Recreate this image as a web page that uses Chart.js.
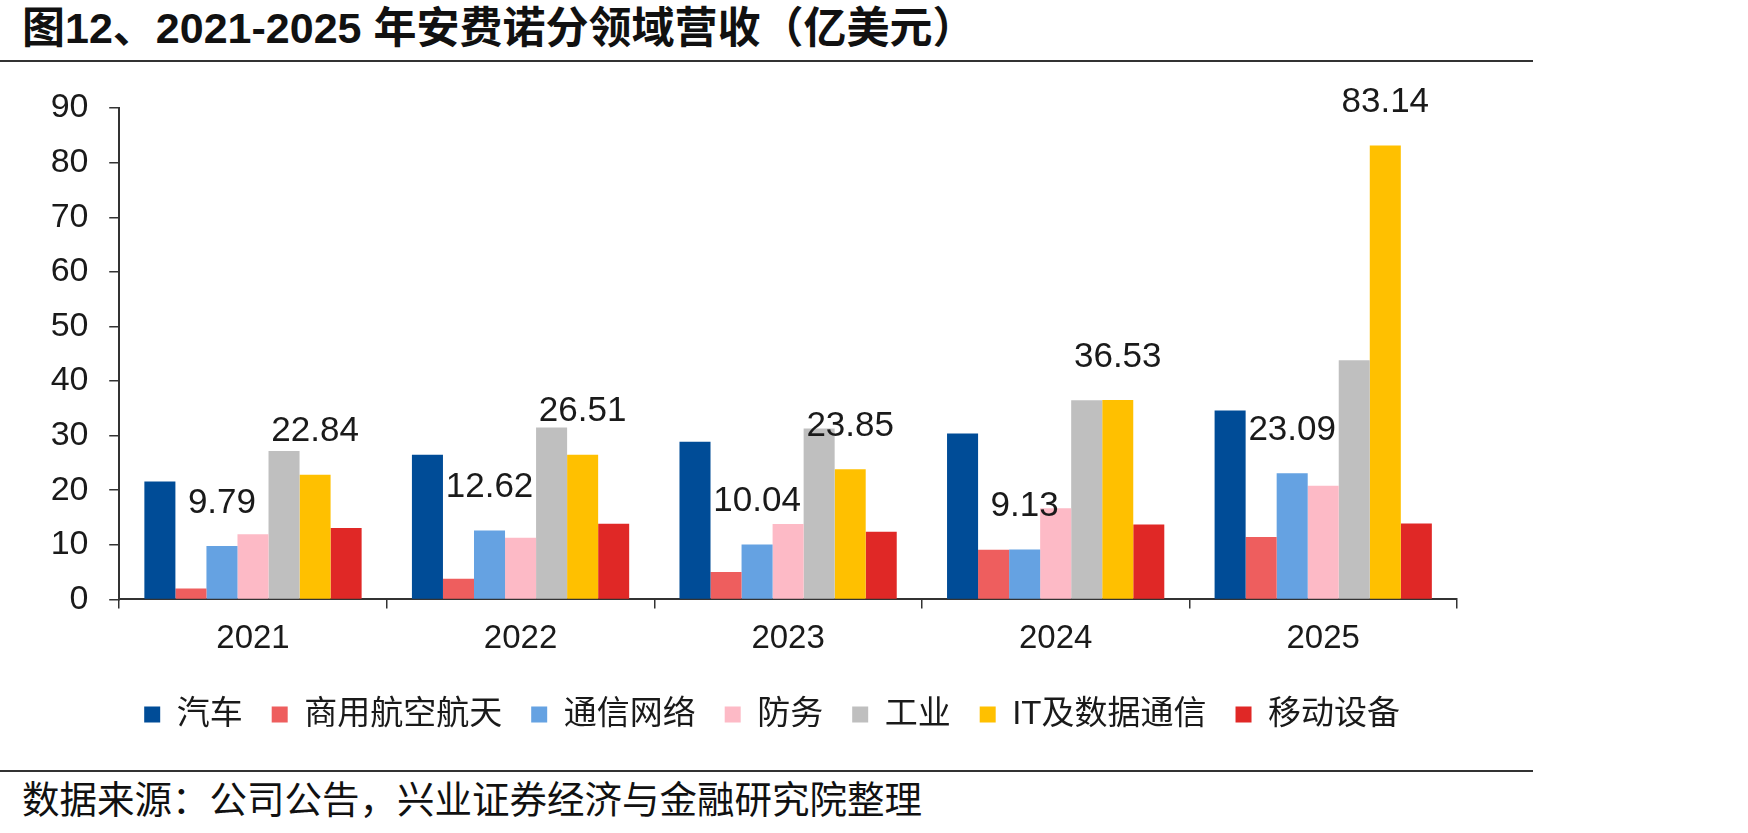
<!DOCTYPE html>
<html>
<head>
<meta charset="utf-8">
<script src="https://cdn.jsdelivr.net/npm/chart.js@4.4.1/dist/chart.umd.min.js"></script>
<style>
  body { margin: 0; width: 1748px; height: 833px; background: #fff; position: relative; overflow: hidden;
         font-family: "Liberation Sans", "Noto Sans CJK SC", sans-serif; color: #111; }
  #title { position: absolute; left: 22px; top: 7px; font-size: 43px; line-height: 43px; font-weight: bold; white-space: nowrap; }
  .rule { position: absolute; left: 0; width: 1533px; height: 2px; background: #333; }
  #source { position: absolute; left: 22px; top: 782px; font-size: 37.5px; line-height: 37px; white-space: nowrap; }
  #box { position: absolute; left: 0; top: 67px; width: 1543px; height: 703px; }
</style>
</head>
<body>
<div id="title">图12、2021-2025 年安费诺分领域营收（亿美元）</div>
<div class="rule" style="top:60px"></div>
<div id="box"><canvas id="grafico"></canvas></div>
<div class="rule" style="top:770px"></div>
<div id="source">数据来源：公司公告，兴业证券经济与金融研究院整理</div>
<script>
// categorias e valores
const anos = ["2021", "2022", "2023", "2024", "2025"];
const series = ["汽车", "商用航空航天", "通信网络", "防务", "工业", "IT及数据通信", "移动设备"];
const cores = ["#004C97", "#EE5E5E", "#65A2E2", "#FDBAC6", "#BFBFBF", "#FFC000", "#E02826"];

const qiche   = [21.6, 26.5, 28.9, 30.4, 34.6];
const hangkong = [2.0, 3.8, 5.0, 9.1, 11.45];
const tongxin = [9.79, 12.62, 10.04, 9.13, 23.09];
const fangwu  = [11.95, 11.3, 13.8, 16.7, 20.8];
const gongye  = [27.2, 31.5, 31.3, 36.5, 43.8];
const itdata  = [22.84, 26.51, 23.85, 36.53, 83.14];
const yidong  = [13.1, 13.85, 12.4, 13.7, 13.9];

const valores = [qiche, hangkong, tongxin, fangwu, gongye, itdata, yidong];
const comRotulo = [2, 5]; // séries com rótulo de valor

const yTicks = [0, 10, 20, 30, 40, 50, 60, 70, 80, 90];

const fonteNum = "Liberation Sans, Noto Sans CJK SC, sans-serif";

// desenha os rótulos acima das barras
const rotulos = {
  id: 'rotulos',
  afterDatasetsDraw(chart) {
    const ctx = chart.ctx;
    ctx.save();
    ctx.font = "35px " + fonteNum;
    ctx.fillStyle = "#1a1a1a";
    ctx.textAlign = "center";
    ctx.textBaseline = "middle";
    comRotulo.forEach(i => {
      const meta = chart.getDatasetMeta(i);
      meta.data.forEach((bar, j) => {
        ctx.fillText(valores[i][j].toFixed(2), bar.x, bar.y - 43);
      });
    });
    ctx.restore();
  }
};

// legenda um pouco deslocada para a esquerda, como no original
const legendaDesloc = {
  id: 'legendaDesloc',
  afterLayout(chart) {
    const lg = chart.legend;
    lg.left = chart.chartArea.left - 32;
    lg.right = chart.chartArea.right;
    lg.width = lg.right - lg.left;
  }
};

var ctx = document.getElementById('grafico').getContext('2d');
var chart = new Chart(ctx, {
  type: 'bar',
  data: {
    labels: anos,
    datasets: series.map((nome, i) => ({
      label: nome,
      data: valores[i],
      backgroundColor: cores[i],
      borderWidth: 0,
      barPercentage: 1.0,
      categoryPercentage: 0.812
    }))
  },
  options: {
    responsive: true,
    maintainAspectRatio: false,
    animation: false,
    layout: { padding: { top: 41, left: 30, right: 86, bottom: 29 } },
    plugins: {
      title: { display: false },
      tooltip: { enabled: false },
      legend: {
        position: 'bottom',
        labels: {
          boxWidth: 16,
          boxHeight: 16,
          padding: 29,
          color: "#1a1a1a",
          font: { size: 33, family: fonteNum }
        }
      }
    },
    scales: {
      x: {
        grid: { display: true, drawOnChartArea: false, drawTicks: true, tickLength: 9, offset: true, color: "#333", lineWidth: 1.5 },
        border: { display: true, color: "#333", width: 2 },
        ticks: { color: "#1a1a1a", padding: 11, font: { size: 33, family: fonteNum, lineHeight: 1.17 } }
      },
      y: {
        min: 0,
        max: 90,
        afterBuildTicks: s => { s.ticks = yTicks.map(v => ({ value: v })); },
        grid: { display: true, drawOnChartArea: false, drawTicks: true, tickLength: 10, color: "#333", lineWidth: 1.5 },
        border: { display: true, color: "#333", width: 2 },
        ticks: { color: "#1a1a1a", padding: 20.7, font: { size: 34, family: fonteNum } }
      }
    }
  },
  plugins: [rotulos, legendaDesloc]
});
</script>
</body>
</html>
